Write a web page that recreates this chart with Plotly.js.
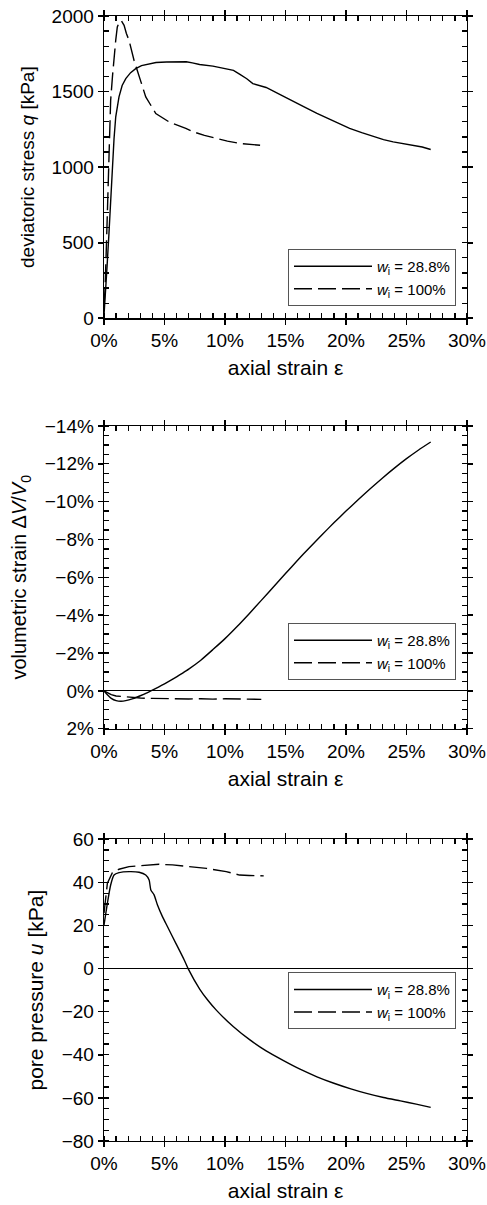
<!DOCTYPE html>
<html>
<head>
<meta charset="utf-8">
<script src="https://cdn.plot.ly/plotly-3.0.1.min.js"></script>
<style>html,body{margin:0;padding:0;background:#fff;}#chart{width:487px;height:1205px;}</style>
</head>
<body>
<div id="chart"></div>
<script>
// ---- Data (axial strain in %) ----
const seriesNames = ['<i>w</i><sub>i</sub> = 28.8%', '<i>w</i><sub>i</sub> = 100%'];

// tick values / labels
const xTickVals = [0, 5, 10, 15, 20, 25, 30];
const xTickText = ['0%', '5%', '10%', '15%', '20%', '25%', '30%'];
const qTickVals = [0, 500, 1000, 1500, 2000];
const qTickText = ['0', '500', '1000', '1500', '2000'];
const vTickVals = [2, 0, -2, -4, -6, -8, -10, -12, -14];
const vTickText = ['2%', '0%', '\u22122%', '\u22124%', '\u22126%', '\u22128%', '\u221210%', '\u221212%', '\u221214%'];
const uTickVals = [60, 40, 20, 0, -20, -40, -60, -80];
const uTickText = ['60', '40', '20', '0', '\u221220', '\u221240', '\u221260', '\u221280'];

// Chart 1: deviatoric stress q [kPa]
const qEps288 = [0, 0.1, 0.25, 0.41, 0.55, 0.69, 0.83, 0.97, 1.1, 1.24, 1.5, 1.8, 2.2, 2.62, 3.1, 3.73, 4.3, 5.16, 6.0, 6.8, 7.3, 7.9, 9.0, 10.1, 10.7, 11.2, 11.8, 12.3, 13.4, 14.4, 15.4, 16.5, 17.6, 19.0, 20.3, 21.3, 22.3, 23.1, 23.9, 24.8, 25.6, 26.3, 27.0];
const q288    = [20, 130, 340, 562, 790, 1002, 1190, 1333, 1410, 1465, 1540, 1586, 1625, 1652, 1672, 1685, 1692, 1696, 1698, 1697, 1690, 1679, 1668, 1652, 1640, 1615, 1585, 1553, 1527, 1487, 1443, 1400, 1355, 1305, 1256, 1228, 1200, 1182, 1167, 1155, 1145, 1133, 1117];
const qEps100 = [0, 0.08, 0.18, 0.28, 0.41, 0.55, 0.7, 0.83, 0.97, 1.1, 1.3, 1.45, 1.66, 1.85, 2.07, 2.48, 2.9, 3.45, 4.28, 5.38, 6.76, 7.4, 8.3, 9.3, 10.2, 11.2, 12.1, 12.9];
const q100    = [80, 185, 430, 694, 1112, 1443, 1600, 1729, 1840, 1927, 1967, 1966, 1938, 1884, 1839, 1707, 1597, 1465, 1355, 1299, 1256, 1233, 1210, 1190, 1172, 1157, 1150, 1145];

// Chart 2: volumetric strain dV/V0 [%]
const vEps288 = [0, 0.3, 0.6, 1.0, 1.4, 1.8, 2.4, 3.0, 3.5, 4.0, 4.5, 5.0, 5.5, 6.0, 6.5, 7.0, 8.0, 9.0, 10.0, 11.0, 12.0, 13.0, 14.0, 15.0, 16.0, 17.0, 18.0, 19.0, 20.0, 21.0, 22.0, 23.0, 24.0, 25.0, 26.0, 27.0];
const v288    = [0, 0.22, 0.4, 0.52, 0.55, 0.52, 0.41, 0.26, 0.12, -0.04, -0.2, -0.37, -0.55, -0.74, -0.94, -1.15, -1.62, -2.18, -2.76, -3.4, -4.08, -4.78, -5.49, -6.2, -6.9, -7.58, -8.24, -8.88, -9.5, -10.1, -10.68, -11.24, -11.77, -12.27, -12.73, -13.15];
const vEps100 = [0, 0.3, 0.6, 1.0, 1.57, 2.2, 3.0, 4.0, 5.0, 6.0, 7.0, 8.0, 9.0, 10.0, 11.0, 12.0, 13.0];
const v100    = [0, 0.12, 0.2, 0.27, 0.31, 0.35, 0.38, 0.4, 0.42, 0.41, 0.43, 0.42, 0.44, 0.42, 0.43, 0.44, 0.45];

// Chart 3: pore pressure u [kPa]
const uEps288 = [0, 0.28, 0.55, 0.83, 1.24, 2.07, 2.9, 3.45, 3.73, 3.87, 4.14, 4.42, 4.83, 5.25, 5.94, 6.63, 6.95, 7.92, 8.6, 9.3, 10.7, 12.06, 13.4, 14.8, 16.2, 17.6, 19.0, 20.4, 21.7, 23.1, 24.5, 25.8, 27.0];
const u288    = [20.2, 30.3, 38.8, 43.4, 44.5, 45, 44.7, 43.4, 41.1, 36.5, 34.2, 29.5, 24.1, 19.4, 11.7, 4, 0, -9.6, -14.8, -19.4, -27, -33.1, -38.2, -42.6, -46.7, -50.2, -53.2, -55.8, -57.9, -59.8, -61.4, -62.9, -64.4];
const uEps100 = [0, 0.28, 0.69, 1.24, 2.07, 3.45, 4.55, 5.66, 7.04, 8.47, 10.1, 11.2, 12.0, 13.2];
const u100    = [25.7, 39.6, 44.5, 46.1, 47.3, 47.9, 48.4, 48.1, 47.3, 46.5, 45, 43.4, 43.2, 43];

// ---- Styling ----
const FONT = 'Liberation Sans, Arial, Helvetica, sans-serif';
const solid = {color: '#000', width: 1.4};
const solidSmooth = {color: '#000', width: 1.4, shape: 'spline', smoothing: 0.6};
const dashed = {color: '#000', width: 1.4, dash: '18px,6px'};

function tr(x, y, xa, ya, line, name, legend) {
  return {type: 'scatter', mode: 'lines', x: x, y: y, xaxis: xa, yaxis: ya,
          line: line, name: name, legend: legend, showlegend: true, hoverinfo: 'skip'};
}

const data = [
  tr(qEps288, q288, 'x', 'y', solid, seriesNames[0], 'legend'),
  tr(qEps100, q100, 'x', 'y', dashed, seriesNames[1], 'legend'),
  tr(vEps288, v288, 'x2', 'y2', solidSmooth, seriesNames[0], 'legend2'),
  tr(vEps100, v100, 'x2', 'y2', dashed, seriesNames[1], 'legend2'),
  tr(uEps288, u288, 'x3', 'y3', solidSmooth, seriesNames[0], 'legend3'),
  tr(uEps100, u100, 'x3', 'y3', dashed, seriesNames[1], 'legend3')
];

const tickFont = {family: FONT, size: 19, color: '#000'};
const xTitleFont = {family: FONT, size: 21, color: '#000'};
function yTitleFont(size) { return {family: FONT, size: size, color: '#000'}; }

function xMain(anchor) {
  return {anchor: anchor, range: [0, 30], tickmode: 'array', tickvals: xTickVals, ticktext: xTickText,
    showline: true, linecolor: '#000', linewidth: 1.3, mirror: 'allticks',
    ticks: 'outside', ticklen: 5, tickwidth: 1.6, tickcolor: '#000',
    minor: {ticks: 'inside', dtick: 1, tick0: 0, ticklen: 5, tickwidth: 1.3, tickcolor: '#000', showgrid: false},
    showgrid: false, zeroline: false, tickfont: tickFont,
    title: {text: 'axial strain ε', font: xTitleFont, standoff: 10}, fixedrange: true};
}
function xOver(ov, anchor) {
  return {overlaying: ov, anchor: anchor, range: [0, 30], tickmode: 'array', tickvals: xTickVals,
    showline: false, mirror: 'ticks', ticks: 'inside', ticklen: 6, tickwidth: 1.6, tickcolor: '#000',
    showticklabels: false, showgrid: false, zeroline: false, fixedrange: true};
}
function yMain(anchor, domain, range, vals, text, minorDtick, title, tsize, zl) {
  return {anchor: anchor, domain: domain, range: range, tickmode: 'array', tickvals: vals, ticktext: text,
    showline: true, linecolor: '#000', linewidth: 1.3, mirror: 'allticks',
    ticks: 'outside', ticklen: 5, tickwidth: 1.6, tickcolor: '#000',
    minor: {ticks: 'inside', dtick: minorDtick, tick0: 0, ticklen: 5, tickwidth: 1.3, tickcolor: '#000', showgrid: false},
    showgrid: false, zeroline: zl, zerolinecolor: '#000', zerolinewidth: 1.3,
    tickfont: tickFont,
    title: {text: title, font: yTitleFont(tsize), standoff: 12}, fixedrange: true};
}
function yOver(ov, anchor, range, vals) {
  return {overlaying: ov, anchor: anchor, range: range, tickmode: 'array', tickvals: vals,
    showline: false, mirror: 'ticks', ticks: 'inside', ticklen: 6, tickwidth: 1.6, tickcolor: '#000',
    showticklabels: false, showgrid: false, zeroline: false, fixedrange: true};
}

const legendBase = {xref: 'paper', yref: 'paper', xanchor: 'right', yanchor: 'bottom',
  bgcolor: '#fff', bordercolor: '#555', borderwidth: 1,
  font: {family: FONT, size: 15, color: '#000'}, itemwidth: 78, tracegroupgap: 0};

const layout = {
  width: 487, height: 1205,
  margin: {l: 104, r: 20, t: 16, b: 64},
  paper_bgcolor: '#fff', plot_bgcolor: '#fff',
  showlegend: true,
  xaxis: xMain('y'),
  xaxis2: xMain('y2'),
  xaxis3: xMain('y3'),
  xaxis4: xOver('x', 'y'),
  xaxis5: xOver('x2', 'y2'),
  xaxis6: xOver('x3', 'y3'),
  yaxis: yMain('x', [0.7313, 1.0], [0, 2000], qTickVals, qTickText, 100, 'deviatoric stress <i>q</i> [kPa]', 19, false),
  yaxis2: yMain('x2', [0.3665, 0.6356], [2, -14], vTickVals, vTickText, 0.5, 'volumetric strain Δ<i>V</i>/<i>V</i><sub>0</sub>', 20, true),
  yaxis3: yMain('x3', [0, 0.2682], [-80, 60], uTickVals, uTickText, 5, 'pore pressure <i>u</i> [kPa]', 21, true),
  yaxis4: yOver('y', 'x', [0, 2000], qTickVals),
  yaxis5: yOver('y2', 'x2', [2, -14], vTickVals),
  yaxis6: yOver('y3', 'x3', [-80, 60], uTickVals),
  legend: Object.assign({}, legendBase, {x: 0.9697, y: 0.7422}),
  legend2: Object.assign({}, legendBase, {x: 0.9697, y: 0.4098}),
  legend3: Object.assign({}, legendBase, {x: 0.9697, y: 0.0993})
};

Plotly.newPlot('chart', data, layout, {staticPlot: true, displayModeBar: false});
</script>
</body>
</html>
